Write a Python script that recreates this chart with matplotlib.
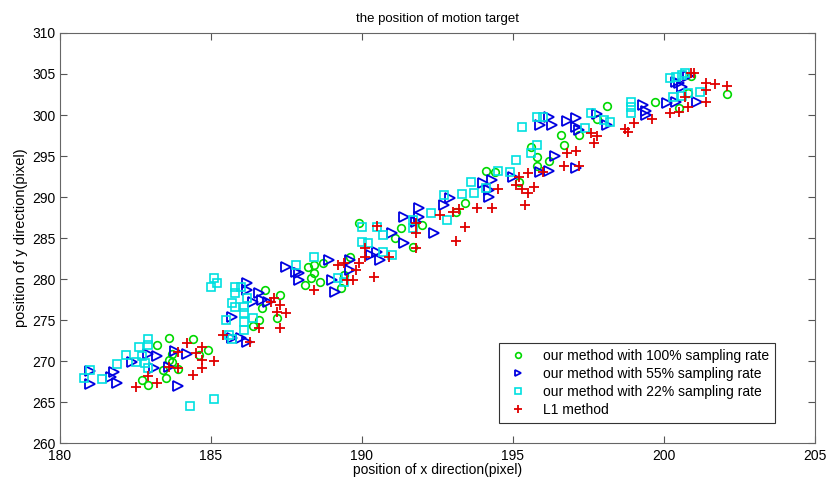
import matplotlib
matplotlib.use("Agg")
import matplotlib.pyplot as plt

plt.rcParams['font.family'] = ['Liberation Sans', 'DejaVu Sans']

# our method with 100% sampling rate (green circles)
x_100 = [183.6, 183.2, 184.4, 183.7, 183.6, 183.7, 183.4, 183.9, 183.5, 182.7, 182.9, 184.9, 184.6,
         186.8, 186.7, 187.3, 186.6, 186.4, 187.2, 188.2, 188.4, 188.4, 188.3, 188.1, 188.6, 188.7,
         189.9, 191.3, 192.0, 191.7, 191.1, 193.4, 193.1, 189.6, 189.3, 189.4,
         198.1, 197.8, 197.2, 196.6, 196.7, 195.6, 195.8, 196.2, 195.8, 195.2, 194.4, 194.1,
         199.7, 202.1, 200.8, 200.5, 200.9]
y_100 = [272.8, 272.0, 272.7, 270.9, 270.1, 269.9, 268.9, 269.0, 267.9, 267.7, 267.1, 271.3, 270.7,
         278.7, 276.5, 278.0, 275.0, 274.3, 275.2, 281.5, 281.7, 280.7, 280.1, 279.3, 279.6, 282.0,
         286.8, 286.2, 286.6, 283.9, 285.0, 289.3, 288.2, 282.7, 278.9, 280.5,
         301.1, 299.5, 297.6, 297.6, 296.3, 296.1, 294.9, 294.4, 293.8, 291.8, 293.0, 293.2,
         301.6, 302.6, 302.7, 300.9, 304.8]

# our method with 55% sampling rate (blue triangles)
x_55 = [181.0, 181.0, 181.8, 181.7, 181.9, 182.4, 182.9, 183.2, 183.1, 183.6, 183.8, 184.2, 183.9,
        186.2, 186.2, 186.6, 186.4, 186.7, 186.9, 185.7, 185.7, 186.0, 186.2, 187.5, 187.8, 187.9,
        187.9, 188.9, 189.0, 189.1,
        191.4, 191.9, 191.9, 191.8, 191.0, 191.4, 192.4, 192.9, 192.7, 190.5, 190.3, 190.6, 189.6,
        189.6, 194.0,
        195.9, 196.2, 196.3, 196.8, 197.1, 197.1, 197.2, 197.8, 198.1, 196.4, 195.9, 196.2, 197.1,
        195.0, 194.3, 194.2, 194.2,
        200.5, 200.6, 200.4, 200.8, 199.3, 199.4, 199.4, 200.1, 200.4, 201.1]
y_55 = [268.8, 267.2, 268.7, 268.0, 267.3, 269.9, 270.9, 270.6, 269.1, 269.3, 271.2, 270.9, 267.0,
        279.5, 278.7, 278.3, 277.2, 277.4, 277.2, 275.4, 272.8, 272.8, 272.3, 281.5, 280.9, 280.7,
        279.9, 282.3, 279.9, 278.4,
        287.6, 287.6, 288.7, 287.0, 285.6, 284.4, 285.6, 289.9, 289.0, 283.3, 282.9, 282.3, 282.3,
        281.1, 291.7,
        298.8, 299.8, 298.8, 299.3, 299.6, 298.5, 298.2, 300.1, 298.8, 295.0, 293.0, 293.2, 293.5,
        292.4, 292.1, 290.9, 290.0,
        303.9, 303.4, 304.0, 304.8, 301.2, 300.5, 300.0, 301.5, 301.6, 301.6]

# our method with 22% sampling rate (cyan squares)
x_22 = [181.0, 180.8, 181.4, 181.9, 182.2, 182.6, 182.9, 182.9, 182.7, 182.8, 182.9, 182.5, 184.3, 185.1,
        185.1, 185.2, 185.0, 185.8, 186.0, 185.8, 185.7, 185.8, 186.2, 186.1, 186.1, 185.5, 186.1, 186.4,
        186.1, 185.6, 185.7, 187.8, 188.4, 189.2, 189.4,
        192.7, 193.3, 192.8, 192.3, 191.7, 191.7, 190.5, 190.7, 190.0, 190.0, 190.2, 191.0, 190.7, 193.7,
        193.6, 194.1,
        195.8, 196.0, 195.3, 195.6, 195.8, 195.1, 194.9, 194.5, 197.6, 198.0, 197.4, 198.2,
        200.2, 200.4, 200.6, 200.7, 200.3, 200.6, 200.8, 201.2, 198.9, 198.9, 198.9]
y_22 = [268.9, 267.9, 267.8, 269.6, 270.7, 271.7, 272.7, 271.9, 270.6, 269.8, 269.1, 269.9, 264.5, 265.4,
        280.1, 279.5, 279.0, 279.0, 279.0, 278.3, 277.1, 276.6, 277.7, 276.6, 275.9, 275.0, 274.8, 275.2,
        273.8, 273.2, 272.7, 281.7, 282.7, 280.1, 279.6,
        290.2, 290.4, 287.2, 288.0, 287.2, 286.2, 286.3, 285.4, 286.3, 284.5, 284.4, 282.9, 283.3, 290.5,
        291.8, 291.1,
        299.8, 299.8, 298.5, 295.4, 296.3, 294.5, 293.0, 293.2, 300.2, 299.4, 298.4, 299.1,
        304.5, 304.6, 304.9, 305.1, 302.2, 302.3, 302.7, 302.8, 301.6, 301.0, 300.2]

# L1 method (red plus)
x_l1 = [182.5, 182.9, 183.2, 183.6, 183.9, 183.9, 184.2, 184.7, 184.5, 184.7, 185.1, 184.7, 184.4,
        187.0, 187.1, 187.3, 187.2, 187.5, 187.3, 186.6, 185.4, 186.3, 188.4, 189.2,
        190.5, 191.8, 191.8, 191.8, 190.1, 190.1, 190.9, 192.6, 193.0, 193.2, 193.4, 193.1, 193.8,
        189.4, 189.8, 189.5, 189.7, 190.4, 189.9,
        197.6, 197.8, 197.7, 196.8, 197.1, 196.7, 197.2, 196.0, 195.5, 195.2, 195.1, 195.3, 195.7,
        195.5, 195.4, 194.3, 194.5,
        200.9, 201.0, 201.4, 201.7, 202.1, 201.4, 200.7, 201.4, 200.8, 200.5, 200.2, 199.6, 199.0,
        198.7, 198.8]
y_l1 = [266.8, 268.2, 267.3, 269.3, 269.1, 271.1, 272.2, 271.7, 271.0, 270.1, 270.0, 269.1, 268.3,
        277.2, 277.7, 276.8, 276.0, 275.9, 274.0, 274.0, 273.2, 272.3, 278.7, 281.7,
        286.5, 286.8, 285.6, 283.8, 283.8, 282.7, 282.7, 287.8, 288.2, 288.5, 286.3, 284.6, 288.7,
        282.0, 281.1, 279.9, 279.9, 280.2, 282.0,
        297.8, 297.4, 296.6, 295.4, 295.6, 293.8, 293.8, 293.0, 292.9, 292.4, 291.5, 291.0, 291.2,
        290.5, 289.0, 288.7, 291.0,
        305.1, 305.1, 303.9, 303.8, 303.5, 303.0, 302.2, 301.6, 301.0, 300.4, 300.2, 299.5, 299.0,
        298.3, 297.9]

fig = plt.figure(figsize=(8.29, 4.78), dpi=100)
ax = fig.add_axes([0.0724, 0.073, 0.9106, 0.858])

ax.plot(x_100, y_100, 'o', mfc='none', mec='#00d800', ms=5.5, mew=1.2,
        label='our method with 100% sampling rate')
ax.plot(x_55, y_55, '>', mfc='none', mec='#0000e0', ms=6.5, mew=1.3,
        label='our method with 55% sampling rate')
ax.plot(x_22, y_22, 's', mfc='none', mec='#00e0e0', ms=6, mew=1.2,
        label='our method with 22% sampling rate')
ax.plot(x_l1, y_l1, '+', color='#e00000', ms=7, mew=1.3, label='L1 method')

ax.set_xlim(180, 205)
ax.set_ylim(260, 310)
ax.set_xticks(range(180, 206, 5))
ax.set_yticks(range(260, 311, 5))
ax.tick_params(direction='in', top=True, right=True, labelsize=10, length=5,
               color='#555555')
ax.tick_params(axis='x', pad=4)
ax.tick_params(axis='y', pad=3)
for s in ax.spines.values():
    s.set_color('#666666')

ax.set_title('the position of motion target', fontsize=9.5, pad=8)
ax.set_xlabel('position of x direction(pixel)', fontsize=10, labelpad=0)
ax.set_ylabel('position of y direction(pixel)', fontsize=10.5, labelpad=3)

leg = ax.legend(loc='lower right', bbox_to_anchor=(0.947, 0.05), borderaxespad=0,
                fontsize=10, markerscale=0.75, fancybox=False, framealpha=1,
                edgecolor='#333333', handlelength=2.0, borderpad=0.4, labelspacing=0.3)
leg.get_frame().set_linewidth(0.8)

fig.savefig('out.png', dpi=100)
